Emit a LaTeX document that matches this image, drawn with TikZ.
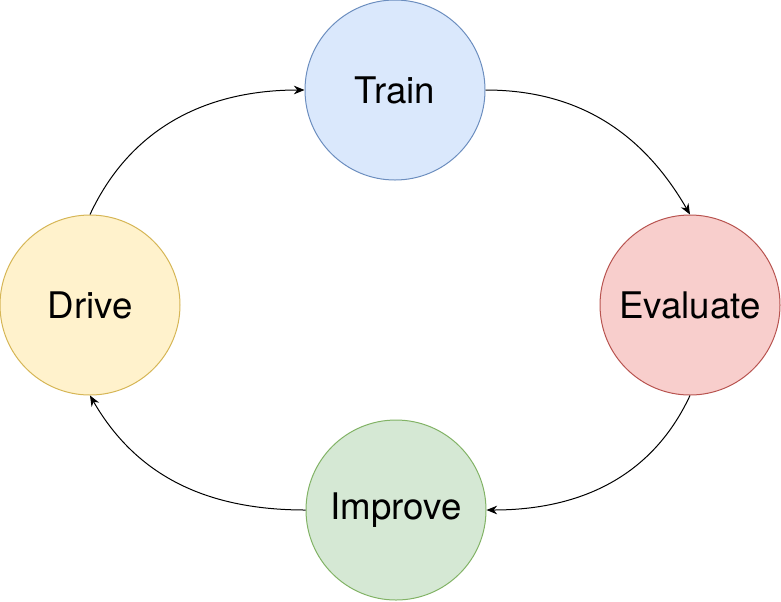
\documentclass[tikz,border=0pt]{standalone}
\usepackage{fontspec}
\setmainfont{TeX Gyre Heros}
\usetikzlibrary{arrows.meta,positioning}

\definecolor{trainfill}{HTML}{DAE8FC}\definecolor{traindraw}{HTML}{6C8EBF}
\definecolor{evalfill}{HTML}{F8CECC}\definecolor{evaldraw}{HTML}{B85450}
\definecolor{impfill}{HTML}{D5E8D4}\definecolor{impdraw}{HTML}{82B366}
\definecolor{drivefill}{HTML}{FFF2CC}\definecolor{drivedraw}{HTML}{D6B656}

\tikzset{
  stage/.style={circle, minimum size=135pt, inner sep=0pt, line width=0.75pt,
    font=\fontsize{27.5}{32}\selectfont},
  flow/.style={-{Stealth[length=8pt,width=6.5pt]}, line width=0.75pt}
}

\begin{document}
\begin{tikzpicture}[x=0.75pt, y=-0.75pt]
  \useasboundingbox (0,0) rectangle (781,601);

  % the four stages of the loop
  \node[stage, fill=trainfill, draw=traindraw] (train) at (395,90) {Train};
  \node[stage, fill=evalfill, draw=evaldraw] (evaluate) at (690,305) {Evaluate};
  \node[stage, fill=impfill, draw=impdraw] (improve) at (396,510) {Improve};
  \node[stage, fill=drivefill, draw=drivedraw] (drive) at (90,305) {Drive};

  % curved connectors
  \draw[flow] (drive.north) to[out=65, in=180] (train.west);
  \draw[flow] (train.east) to[out=0, in=120] (evaluate.north);
  \draw[flow] (evaluate.south) to[out=-115, in=0] (improve.east);
  \draw[flow] (improve.west) to[out=180, in=-60] (drive.south);

\end{tikzpicture}
\end{document}
